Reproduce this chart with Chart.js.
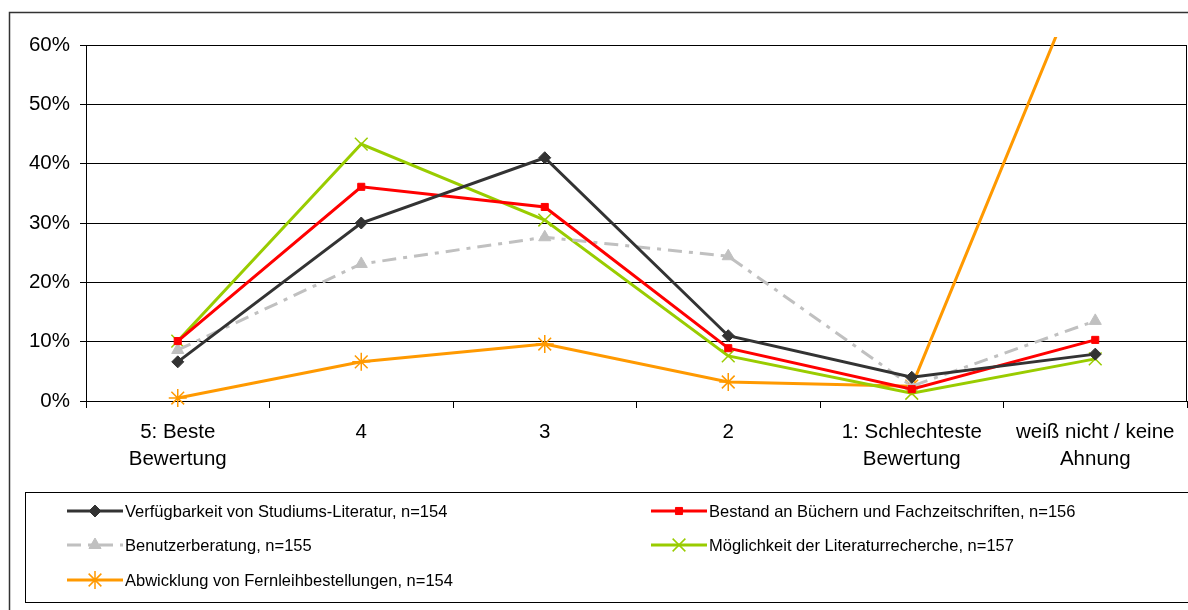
<!DOCTYPE html>
<html>
<head>
<meta charset="utf-8">
<script src="https://cdn.jsdelivr.net/npm/chart.js@4.4.0/dist/chart.umd.min.js"></script>
<style>
  html, body { margin: 0; padding: 0; background: #fff; }
  #wrap { width: 1188px; height: 610px; position: relative; }
</style>
</head>
<body>
<div id="wrap"><canvas id="lineChart"></canvas></div>
<script>
// categories and values (percent)
const categories = [['5: Beste', 'Bewertung'], '4', '3', '2', ['1: Schlechteste', 'Bewertung'], ['weiß nicht / keine', 'Ahnung']];
const verfuegbarkeit = [6.6, 30.0, 41.0, 11.0, 4.0, 7.9];
const bestand = [10.1, 36.1, 32.7, 8.9, 2.0, 10.3];
const beratung = [8.6, 23.1, 27.6, 24.4, 2.5, 13.5];
const recherche = [10.1, 43.3, 30.5, 7.6, 1.3, 7.1];
const fernleihe = [0.5, 6.6, 9.6, 3.2, 2.5, 77.5];
const seriesNames = [
    'Verfügbarkeit von Studiums-Literatur, n=154',
    'Bestand an Büchern und Fachzeitschriften, n=156',
    'Benutzerberatung, n=155',
    'Möglichkeit der Literaturrecherche, n=157',
    'Abwicklung von Fernleihbestellungen, n=154'
];
const yTicks = [0, 10, 20, 30, 40, 50, 60];

const FONT = '"Liberation Sans", Arial, sans-serif';

// legend slots: [x of sample start, y]
const legendSlots = [[67, 511], [651, 511], [67, 545], [651, 545], [67, 580]];

const framePlugin = {
    id: 'frame',
    beforeDraw(chart) {
        const ctx = chart.ctx;
        ctx.save();
        ctx.fillStyle = '#fff';
        ctx.fillRect(0, 0, chart.width, chart.height);
        // outer chart border
        ctx.strokeStyle = '#333';
        ctx.lineWidth = 1.5;
        ctx.strokeRect(9.5, 12.5, chart.width + 20, chart.height + 20);
        ctx.restore();
    },
    afterDraw(chart) {
        const ctx = chart.ctx;
        const a = chart.chartArea;
        ctx.save();
        ctx.strokeStyle = '#000';
        ctx.lineWidth = 1;
        ctx.beginPath();
        ctx.moveTo(a.right - 0.5, a.top);
        ctx.lineTo(a.right - 0.5, a.bottom);
        ctx.stroke();

        // legend box
        ctx.strokeRect(25.5, 492.5, chart.width, 110);
        ctx.font = '16.5px ' + FONT;
        ctx.textBaseline = 'middle';
        chart.data.datasets.forEach((ds, i) => {
            const [x, y] = legendSlots[i];
            ctx.strokeStyle = ds.borderColor;
            ctx.lineWidth = 3;
            ctx.setLineDash(ds.borderDash || []);
            ctx.beginPath();
            ctx.moveTo(x, y);
            ctx.lineTo(x + 56, y);
            ctx.stroke();
            ctx.setLineDash([]);
            ctx.fillStyle = ds.pointBackgroundColor;
            ctx.strokeStyle = ds.pointBorderColor;
            ctx.lineWidth = ds.pointBorderWidth;
            Chart.helpers.drawPoint(ctx, {
                pointStyle: ds.pointStyle,
                radius: ds.pointRadius,
                rotation: 0,
                borderWidth: ds.pointBorderWidth
            }, x + 28, y);
            ctx.fillStyle = '#000';
            ctx.fillText(ds.label, x + 58, y + 1);
        });
        ctx.restore();
    }
};

const clipBox = { left: 10, top: 8, right: 10, bottom: 10 };

let ctx = document.getElementById('lineChart').getContext('2d');
let lineChart = new Chart(ctx, {
    type: 'line',
    data: {
        labels: categories,
        datasets: [{
            label: seriesNames[0],
            data: verfuegbarkeit,
            borderColor: '#333333',
            borderWidth: 3,
            pointStyle: 'rectRot',
            pointRadius: 6,
            pointBackgroundColor: '#333333',
            pointBorderColor: '#333333',
            pointBorderWidth: 1,
            clip: clipBox,
            tension: 0
        }, {
            label: seriesNames[1],
            data: bestand,
            borderColor: '#ff0000',
            borderWidth: 3,
            pointStyle: 'rect',
            pointRadius: 5,
            pointBackgroundColor: '#ff0000',
            pointBorderColor: '#ff0000',
            pointBorderWidth: 1,
            clip: clipBox,
            tension: 0
        }, {
            label: seriesNames[2],
            data: beratung,
            borderColor: '#c0c0c0',
            borderWidth: 3,
            borderDash: [14, 7, 4, 7],
            pointStyle: 'triangle',
            pointRadius: 7,
            pointBackgroundColor: '#c0c0c0',
            pointBorderColor: '#c0c0c0',
            pointBorderWidth: 1,
            clip: clipBox,
            tension: 0
        }, {
            label: seriesNames[3],
            data: recherche,
            borderColor: '#99cc00',
            borderWidth: 3,
            pointStyle: 'crossRot',
            pointRadius: 9,
            pointBackgroundColor: '#99cc00',
            pointBorderColor: '#99cc00',
            pointBorderWidth: 1.5,
            clip: clipBox,
            tension: 0
        }, {
            label: seriesNames[4],
            data: fernleihe,
            borderColor: '#ff9900',
            borderWidth: 3,
            pointStyle: 'star',
            pointRadius: 9,
            pointBackgroundColor: '#ff9900',
            pointBorderColor: '#ff9900',
            pointBorderWidth: 1.5,
            clip: clipBox,
            tension: 0
        }]
    },
    options: {
        responsive: true,
        maintainAspectRatio: false,
        animation: false,
        layout: { autoPadding: false, padding: { left: 0, top: 45, right: 1, bottom: 0 } },
        plugins: {
            legend: { display: false },
            tooltip: { enabled: false }
        },
        scales: {
            x: {
                offset: true,
                afterFit(scale) {
                    scale.height = 209;
                    scale.paddingLeft = 0;
                    scale.paddingRight = 0;
                },
                grid: {
                    offset: true,
                    drawOnChartArea: false,
                    drawTicks: true,
                    tickLength: 7,
                    color: '#000'
                },
                border: { display: true, color: '#000', width: 1 },
                ticks: {
                    color: '#000',
                    padding: 11,
                    maxRotation: 0,
                    autoSkip: false,
                    font: { family: FONT, size: 20.5, lineHeight: 1.32 }
                }
            },
            y: {
                min: yTicks[0],
                max: yTicks[yTicks.length - 1],
                afterFit(scale) {
                    scale.width = 86;
                    scale.paddingTop = 0;
                    scale.paddingBottom = 0;
                },
                afterBuildTicks(scale) { scale.ticks = yTicks.map(v => ({ value: v })); },
                grid: {
                    color: '#000',
                    lineWidth: 1,
                    tickLength: 6
                },
                border: { display: true, color: '#000', width: 1 },
                ticks: {
                    color: '#000',
                    padding: 10,
                    font: { family: FONT, size: 20.5 },
                    callback: v => v + '%'
                }
            }
        }
    },
    plugins: [framePlugin]
});
</script>
</body>
</html>
